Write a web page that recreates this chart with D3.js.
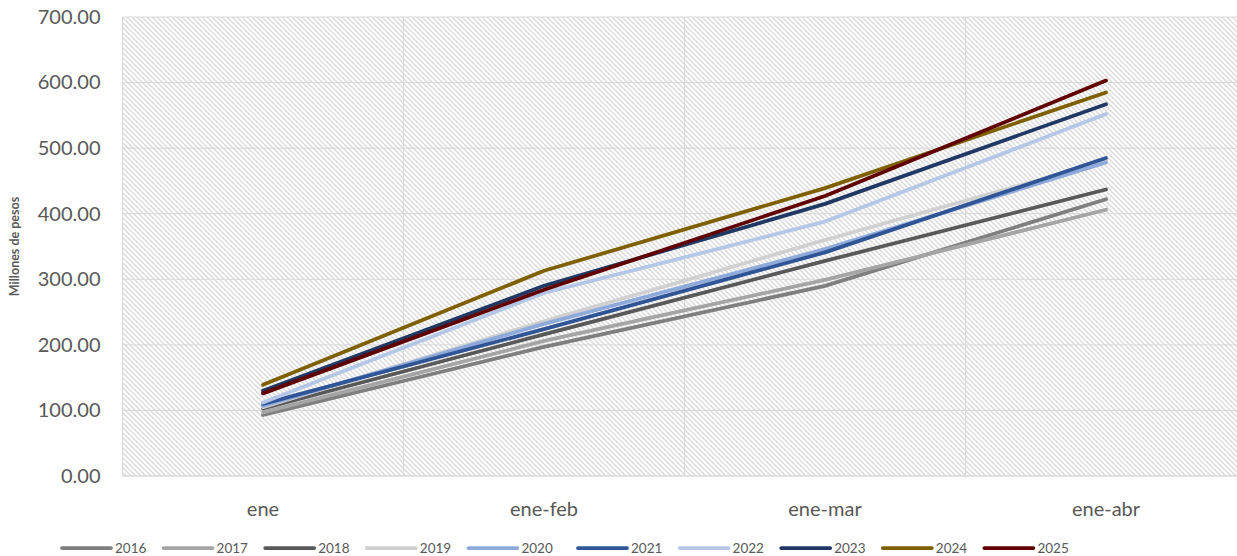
<!DOCTYPE html>
<html>
<head>
<meta charset="utf-8">
<script src="https://cdn.jsdelivr.net/npm/d3@7"></script>
<style>
  html, body { margin: 0; padding: 0; background: #ffffff; }
  svg { display: block; }
  text { font-family: Lato, "Open Sans", sans-serif; }
</style>
</head>
<body>
<svg id="chart" width="1237" height="556"></svg>
<script>
const categories = ["ene", "ene-feb", "ene-mar", "ene-abr"];
const years = ["2016", "2017", "2018", "2019", "2020", "2021", "2022", "2023", "2024", "2025"];
const v2016 = [93, 197, 290, 422];
const v2017 = [97, 206, 299, 406];
const v2018 = [103, 216, 328, 437];
const v2019 = [105, 236, 360, 480];
const v2020 = [107, 232, 346, 478];
const v2021 = [110, 224, 341, 485];
const v2022 = [112, 279, 388, 552];
const v2023 = [130, 290, 415, 567];
const v2024 = [139, 313, 439, 585];
const v2025 = [126, 284, 427, 603];
const yTicks = [0, 100, 200, 300, 400, 500, 600, 700];
const colors = ["#7f7f7f", "#a5a5a5", "#595959", "#d0d0d0", "#8eaadb", "#2f5597", "#b4c7e7", "#203864", "#7f6000", "#600000"];

const seriesValues = [v2016, v2017, v2018, v2019, v2020, v2021, v2022, v2023, v2024, v2025];
const series = years.map((yr, i) => ({ name: yr, values: seriesValues[i], color: colors[i] }));

const svg = d3.select("#chart");
const pLeft = 122.5, pRight = 1246.5, pTop = 17, pBottom = 476;

const x = d3.scaleBand().domain(categories).range([pLeft, pRight]).padding(0);
const y = d3.scaleLinear().domain([0, 700]).range([pBottom, pTop]);

// pattern
const defs = svg.append("defs");
const pat = defs.append("pattern")
  .attr("id", "hatch").attr("patternUnits", "userSpaceOnUse")
  .attr("width", 5).attr("height", 5);
pat.append("rect").attr("width", 5).attr("height", 5).attr("fill", "#ffffff");
pat.append("path")
  .attr("d", "M0,0 L5,5 M-1,4 L1,6 M4,-1 L6,1")
  .attr("stroke", "#dadada").attr("stroke-width", 1.4);

svg.append("rect")
  .attr("x", pLeft).attr("y", pTop)
  .attr("width", pRight - pLeft).attr("height", pBottom - pTop)
  .attr("fill", "url(#hatch)");

// horizontal gridlines
svg.append("g").selectAll("line").data(yTicks.filter(d => d > 0)).join("line")
  .attr("x1", pLeft).attr("x2", pRight)
  .attr("y1", d => y(d)).attr("y2", d => y(d))
  .attr("stroke", "#d9d9d9").attr("stroke-width", 1);

// vertical gridlines at category boundaries
svg.append("g").selectAll("line").data(categories).join("line")
  .attr("x1", d => x(d)).attr("x2", d => x(d))
  .attr("y1", pTop).attr("y2", pBottom)
  .attr("stroke", "#d9d9d9").attr("stroke-width", 1);

// x axis line
svg.append("line")
  .attr("x1", pLeft).attr("x2", pRight)
  .attr("y1", pBottom).attr("y2", pBottom)
  .attr("stroke", "#d9d9d9").attr("stroke-width", 1.5);

// y tick labels
const yAxis = d3.axisLeft(y).tickValues(yTicks).tickFormat(d3.format(".2f")).tickSize(0).tickPadding(22);
const gy = svg.append("g").attr("transform", `translate(${pLeft},0)`).call(yAxis);
gy.select(".domain").remove();
gy.selectAll("text")
  .attr("font-family", "Lato, 'Open Sans', sans-serif")
  .attr("font-size", 20).attr("fill", "#595959");

// x tick labels
const xAxis = d3.axisBottom(x).tickSize(0).tickPadding(26);
const gx = svg.append("g").attr("transform", `translate(0,${pBottom})`).call(xAxis);
gx.select(".domain").remove();
gx.selectAll("text")
  .attr("font-family", "Lato, 'Open Sans', sans-serif")
  .attr("font-size", 20).attr("fill", "#595959");

// y title
svg.append("text")
  .attr("transform", `translate(19,${(pTop + pBottom) / 2}) rotate(-90)`)
  .attr("text-anchor", "middle")
  .attr("font-size", 12.5).attr("font-weight", "bold").attr("fill", "#595959")
  .text("Millones de pesos");

// lines
const line = d3.line()
  .x((d, i) => x(categories[i]) + x.bandwidth() / 2)
  .y(d => y(d));

svg.append("g").selectAll("path").data(series).join("path")
  .attr("d", d => line(d.values))
  .attr("fill", "none")
  .attr("stroke", d => d.color)
  .attr("stroke-width", 3.75)
  .attr("stroke-linejoin", "round")
  .attr("stroke-linecap", "round");

// legend
const legend = svg.append("g");
const lg = legend.selectAll("g").data(series).join("g")
  .attr("transform", (d, i) => `translate(${62 + i * 101.6 + (i >= 5 ? 8 : 0)},548)`);
lg.append("line")
  .attr("x1", 0).attr("x2", 49).attr("y1", 0).attr("y2", 0)
  .attr("stroke", d => d.color).attr("stroke-width", 3.75)
  .attr("stroke-linecap", "round");
lg.append("text")
  .attr("x", 53).attr("y", 0).attr("dy", "0.36em")
  .attr("font-size", 13.5).attr("fill", "#595959")
  .text(d => d.name);
</script>
</body>
</html>
